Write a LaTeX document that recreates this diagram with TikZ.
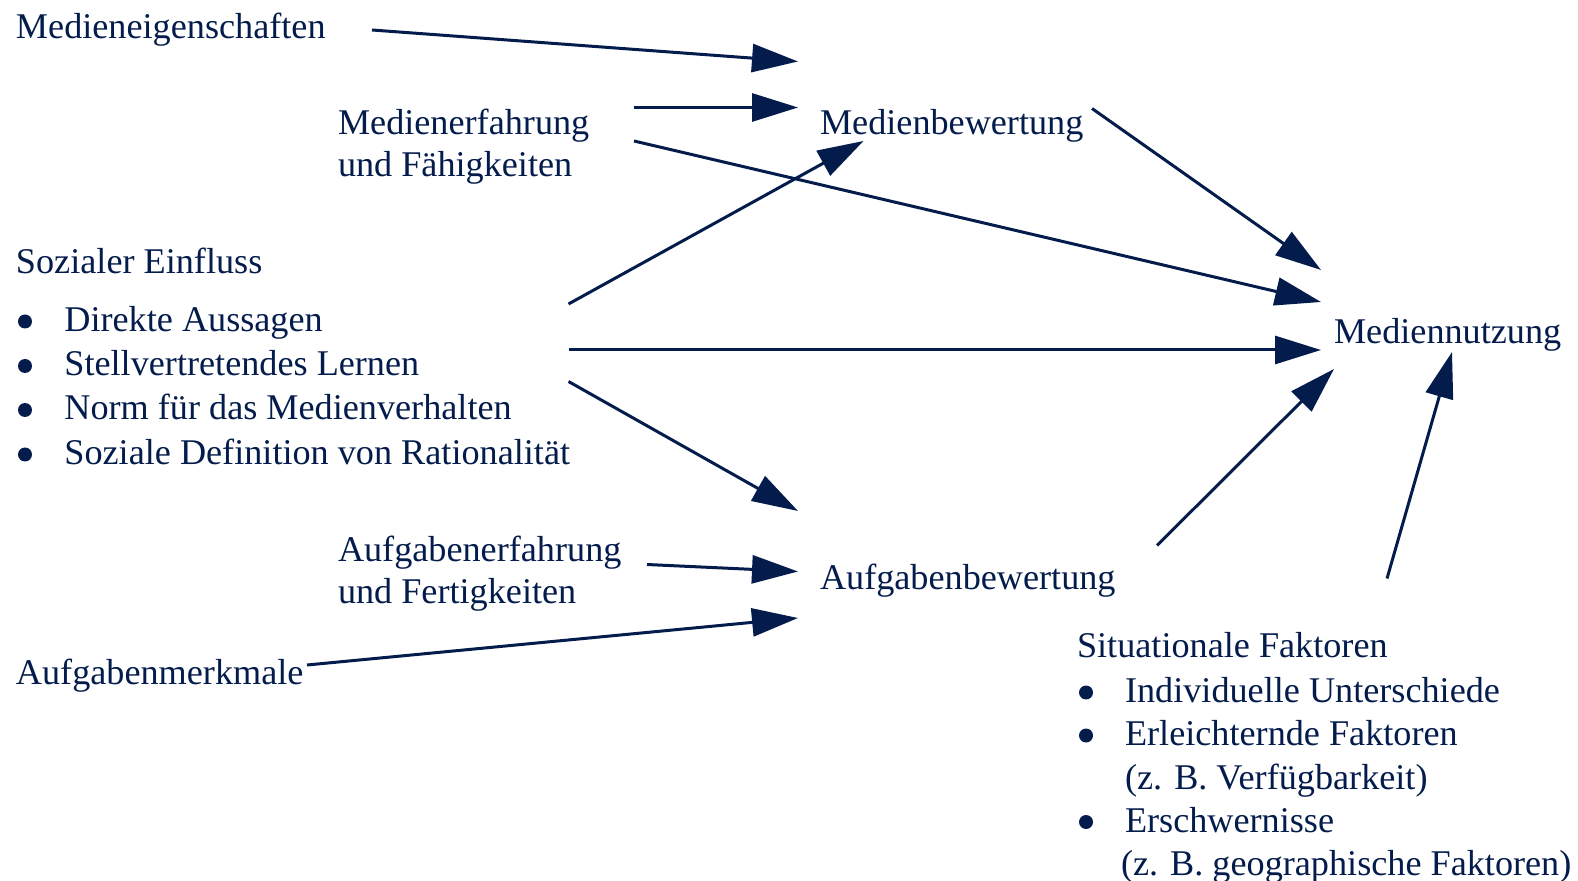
\documentclass[tikz,border=0pt]{standalone}
\usepackage{fontspec}
\setmainfont{Liberation Serif}
\usetikzlibrary{arrows.meta}
\definecolor{navy}{RGB}{4,28,76}
\tikzset{
  lbl/.style={anchor=base west, inner sep=0pt, outer sep=0pt, text=navy, font=\fontsize{18.1pt}{21pt}\selectfont},
  dot/.style={circle, fill=navy, inner sep=0pt, minimum size=7pt},
  arr/.style={draw=navy, line width=1.5pt, -{Triangle[length=23pt,width=14pt]}},
}
\begin{document}
\begin{tikzpicture}[x=0.5pt,y=-0.5pt]
\useasboundingbox (0,0) rectangle (1578,881);
% text nodes
\node[lbl] (meig) at (16,38.5) {Medieneigenschaften};
\node[lbl] (merf1) at (338,135) {Medienerfahrung};
\node[lbl] (merf2) at (338,176.5) {und Fähigkeiten};
\node[lbl] (mbew) at (820,135) {Medienbewertung};
\node[lbl] (soz) at (16,274) {Sozialer Einfluss};
\node[lbl] (s1) at (64.4,331.5) {Direkte Aussagen};
\node[lbl] (s2) at (64.4,376) {Stellvertretendes Lernen};
\node[lbl] (s3) at (64.4,420) {Norm für das Medienverhalten};
\node[lbl] (s4) at (64.4,464.5) {Soziale Definition von Rationalität};
\node[dot] (d1) at (25,321.5) {};
\node[dot] (d2) at (25,366) {};
\node[dot] (d3) at (25,410) {};
\node[dot] (d4) at (25,454.5) {};
\node[lbl] (aerf1) at (338,561.5) {Aufgabenerfahrung};
\node[lbl] (aerf2) at (338,603) {und Fertigkeiten};
\node[lbl] (abew) at (820,589) {Aufgabenbewertung};
\node[lbl] (amerk) at (16,684.5) {Aufgabenmerkmale};
\node[lbl] (mnutz) at (1334,343.5) {Mediennutzung};
\node[lbl] (sit) at (1077,657.5) {Situationale Faktoren};
\node[lbl] (f1) at (1125,702.5) {Individuelle Unterschiede};
\node[lbl] (f2) at (1125,745.5) {Erleichternde Faktoren};
\node[lbl] (f2b) at (1125,789) {(z. B. Verfügbarkeit)};
\node[lbl] (f3) at (1125,832) {Erschwernisse};
\node[lbl] (f3b) at (1121,875) {(z. B. geographische Faktoren)};
\node[dot] (e1) at (1086,692.5) {};
\node[dot] (e2) at (1086,735.5) {};
\node[dot] (e3) at (1086,822) {};
% connector end points
\coordinate (a1s) at (372,30);   \coordinate (a1e) at (798,61.5);
\coordinate (a2s) at (634,107.5); \coordinate (a2e) at (798,107.5);
\coordinate (a3s) at (634,141);  \coordinate (a3e) at (1321,302);
\coordinate (a4s) at (568.5,304); \coordinate (a4e) at (863.5,141);
\coordinate (a5s) at (568.5,350); \coordinate (a5e) at (1321,350);
\coordinate (a6s) at (568.5,381.5); \coordinate (a6e) at (798,511);
\coordinate (a7s) at (1092,108.5); \coordinate (a7e) at (1321,270);
\coordinate (a8s) at (647,564.5); \coordinate (a8e) at (798,571.5);
\coordinate (a9s) at (307,665); \coordinate (a9e) at (798,618);
\coordinate (a10s) at (1157,545.5); \coordinate (a10e) at (1334,369);
\coordinate (a11s) at (1387,578.5); \coordinate (a11e) at (1452,352);
% connectors
\draw[arr] (a1s) -- (a1e);
\draw[arr] (a2s) -- (a2e);
\draw[arr] (a3s) -- (a3e);
\draw[arr] (a4s) -- (a4e);
\draw[arr] (a5s) -- (a5e);
\draw[arr] (a6s) -- (a6e);
\draw[arr] (a7s) -- (a7e);
\draw[arr] (a8s) -- (a8e);
\draw[arr] (a9s) -- (a9e);
\draw[arr] (a10s) -- (a10e);
\draw[arr] (a11s) -- (a11e);
\end{tikzpicture}
\end{document}
